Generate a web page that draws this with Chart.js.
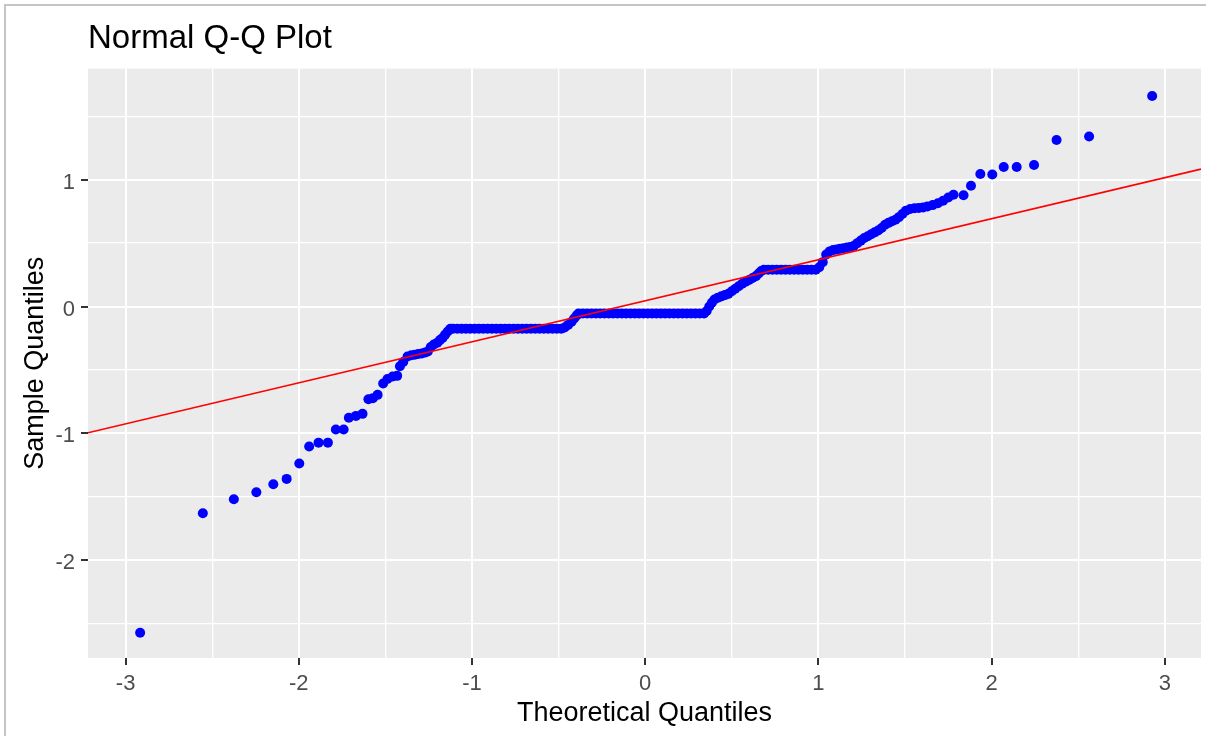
<!DOCTYPE html>
<html>
<head>
<meta charset="utf-8">
<title>Normal Q-Q Plot</title>
<script src="https://cdn.jsdelivr.net/npm/chart.js@4.4.1/dist/chart.umd.min.js"></script>
<style>
  html, body { margin: 0; padding: 0; background: #fff; overflow: hidden; }
  #frame { position: absolute; left: 4px; top: 4px; width: 1400px; height: 1000px; border: 2px solid #c4c4c4; }
  #wrap { position: absolute; left: 0; top: 0; width: 1206px; height: 736px; }
</style>
</head>
<body>
<div id="frame"></div>
<div id="wrap"><canvas id="qqChart" width="1206" height="736"></canvas></div>
<script>
// theoretical quantiles (x) and sample quantiles (y), sorted
const theoretical = [
  // lower tail
  -2.916, -2.554, -2.375, -2.245, -2.147, -2.070, -1.997, -1.940, -1.886, -1.832,
  -1.786, -1.741, -1.711, -1.670, -1.632, -1.598, -1.572, -1.545, -1.513, -1.488,
  -1.458, -1.432, -1.416, -1.397, -1.372, -1.350, -1.330, -1.310, -1.290, -1.270,
  -1.255, -1.238, -1.220, -1.200, -1.185, -1.170, -1.155, -1.140, -1.125,
  // first plateau
  -1.110, -1.085, -1.060, -1.035, -1.010, -0.985, -0.960, -0.935, -0.910, -0.885,
  -0.860, -0.835, -0.810, -0.785, -0.760, -0.735, -0.710, -0.685, -0.660, -0.635,
  -0.610, -0.585, -0.560, -0.535, -0.510, -0.485,
  -0.465, -0.445, -0.425, -0.410, -0.395,
  // second plateau
  -0.385, -0.360, -0.335, -0.310, -0.285, -0.260, -0.235, -0.210, -0.185, -0.160,
  -0.135, -0.110, -0.085, -0.060, -0.035, -0.010, 0.015, 0.040, 0.065, 0.090,
  0.115, 0.140, 0.165, 0.190, 0.215, 0.240, 0.265, 0.290, 0.315, 0.340,
  0.355, 0.370, 0.385, 0.400, 0.420, 0.440, 0.460, 0.480, 0.500, 0.520,
  0.540, 0.560, 0.580, 0.600, 0.620, 0.640, 0.655, 0.670,
  // third plateau
  0.685, 0.710, 0.735, 0.760, 0.785, 0.810, 0.835, 0.860, 0.885, 0.910,
  0.935, 0.960, 0.985,
  // upper tail
  1.005, 1.025, 1.045, 1.065, 1.085, 1.105, 1.125, 1.145, 1.165, 1.185,
  1.205, 1.225, 1.245, 1.265, 1.285, 1.305, 1.325, 1.345, 1.365, 1.385,
  1.405, 1.425, 1.445, 1.465, 1.485, 1.505, 1.530, 1.555, 1.580, 1.605,
  1.630, 1.660, 1.690, 1.720, 1.750, 1.780, 1.838, 1.881, 1.935, 2.004,
  2.070, 2.145, 2.245, 2.375, 2.563, 2.927
];

const sample = [
  -2.574, -1.631, -1.521, -1.465, -1.402, -1.360, -1.238, -1.105, -1.074, -1.074,
  -0.970, -0.970, -0.878, -0.863, -0.847, -0.731, -0.723, -0.697, -0.608, -0.572,
  -0.552, -0.547, -0.471, -0.438, -0.395, -0.385, -0.380, -0.375, -0.370, -0.362,
  -0.355, -0.320, -0.300, -0.285, -0.265, -0.248, -0.222, -0.197, -0.175,
  -0.175, -0.175, -0.175, -0.175, -0.175, -0.175, -0.175, -0.175, -0.175, -0.175,
  -0.175, -0.175, -0.175, -0.175, -0.175, -0.175, -0.175, -0.175, -0.175, -0.175,
  -0.175, -0.175, -0.175, -0.175, -0.175, -0.175,
  -0.165, -0.145, -0.120, -0.095, -0.070,
  -0.055, -0.055, -0.055, -0.055, -0.055, -0.055, -0.055, -0.055, -0.055, -0.055,
  -0.055, -0.055, -0.055, -0.055, -0.055, -0.055, -0.055, -0.055, -0.055, -0.055,
  -0.055, -0.055, -0.055, -0.055, -0.055, -0.055, -0.055, -0.055, -0.055, -0.055,
  -0.035, 0.000, 0.030, 0.055, 0.070, 0.080, 0.090, 0.100, 0.120, 0.140,
  0.160, 0.180, 0.195, 0.210, 0.225, 0.240, 0.260, 0.280,
  0.290, 0.290, 0.290, 0.290, 0.290, 0.290, 0.290, 0.290, 0.290, 0.290,
  0.290, 0.290, 0.290,
  0.310, 0.350, 0.410, 0.435, 0.445, 0.450, 0.455, 0.460, 0.465, 0.470,
  0.480, 0.500, 0.520, 0.540, 0.555, 0.570, 0.585, 0.600, 0.620, 0.645,
  0.660, 0.672, 0.685, 0.705, 0.730, 0.755, 0.770, 0.775, 0.777, 0.782,
  0.790, 0.800, 0.815, 0.835, 0.860, 0.882, 0.878, 0.953, 1.045, 1.042,
  1.100, 1.100, 1.116, 1.313, 1.342, 1.661
];

// reference line (qqline), endpoints at the panel edges
const lineQ = [-3.217, 3.209];
const lineS = [-0.996, 1.084];

// axis breaks: labelled majors and unlabelled minors
const xBreaks = [-3, -2.5, -2, -1.5, -1, -0.5, 0, 0.5, 1, 1.5, 2, 2.5, 3];
const xLabels = [-3, -2, -1, 0, 1, 2, 3];
const yBreaks = [-2.5, -2, -1.5, -1, -0.5, 0, 0.5, 1, 1.5];
const yLabels = [-2, -1, 0, 1];

const xRange = [-3.217, 3.209];
const yRange = [-2.773, 1.877];

Chart.defaults.font.family = '"Liberation Sans", Arial, sans-serif';

const isMajor = (c) => c.tick && Number.isInteger(c.tick.value);

// grey panel like ggplot
const panelBg = {
  id: 'panelBg',
  beforeDraw(chart) {
    const { ctx, chartArea: a } = chart;
    ctx.save();
    ctx.fillStyle = '#ebebeb';
    ctx.fillRect(a.left, a.top, a.right - a.left, a.bottom - a.top);
    ctx.restore();
  }
};

const gridOpts = {
  color: '#ffffff',
  lineWidth: c => isMajor(c) ? 2 : 1.3,
  tickLength: 7,
  tickWidth: 2,
  tickColor: c => isMajor(c) ? '#333333' : 'rgba(0,0,0,0)'
};

new Chart(document.getElementById('qqChart').getContext('2d'), {
  data: {
    datasets: [
      {
        type: 'line',
        data: lineQ.map((x, i) => ({ x, y: lineS[i] })),
        borderColor: '#ff0000',
        borderWidth: 1.6,
        pointRadius: 0,
        order: 0
      },
      {
        type: 'scatter',
        data: theoretical.map((x, i) => ({ x, y: sample[i] })),
        backgroundColor: '#0000ff',
        borderWidth: 0,
        pointRadius: 5,
        order: 1
      }
    ]
  },
  options: {
    responsive: false,
    animation: false,
    layout: { padding: { left: 0, top: 0, right: 3, bottom: 0 } },
    plugins: {
      legend: { display: false },
      tooltip: { enabled: false },
      title: {
        display: true,
        text: 'Normal Q-Q Plot',
        align: 'start',
        fullSize: false,
        color: '#000000',
        font: { size: 33, weight: 'normal' },
        padding: { top: 19, bottom: 10 }
      }
    },
    scales: {
      x: {
        type: 'linear',
        min: xRange[0],
        max: xRange[1],
        afterBuildTicks: s => { s.ticks = xBreaks.map(v => ({ value: v })); },
        afterFit: s => { s.height = 78; },
        border: { display: false },
        grid: gridOpts,
        ticks: {
          autoSkip: false,
          maxRotation: 0,
          padding: 6,
          color: '#4d4d4d',
          font: { size: 22 },
          callback: v => xLabels.includes(v) ? String(v) : ''
        },
        title: {
          display: true,
          text: 'Theoretical Quantiles',
          color: '#000000',
          font: { size: 27 },
          padding: { top: 0, bottom: 6 }
        }
      },
      y: {
        type: 'linear',
        min: yRange[0],
        max: yRange[1],
        afterBuildTicks: s => { s.ticks = yBreaks.map(v => ({ value: v })); },
        afterFit: s => { s.width = 88; },
        border: { display: false },
        grid: gridOpts,
        ticks: {
          autoSkip: false,
          padding: 6,
          labelOffset: 3,
          color: '#4d4d4d',
          font: { size: 22 },
          callback: v => yLabels.includes(v) ? String(v) : ''
        },
        title: {
          display: true,
          text: 'Sample Quantiles',
          color: '#000000',
          font: { size: 27 },
          padding: { top: 19, bottom: 0 }
        }
      }
    }
  },
  plugins: [panelBg]
});
</script>
</body>
</html>
